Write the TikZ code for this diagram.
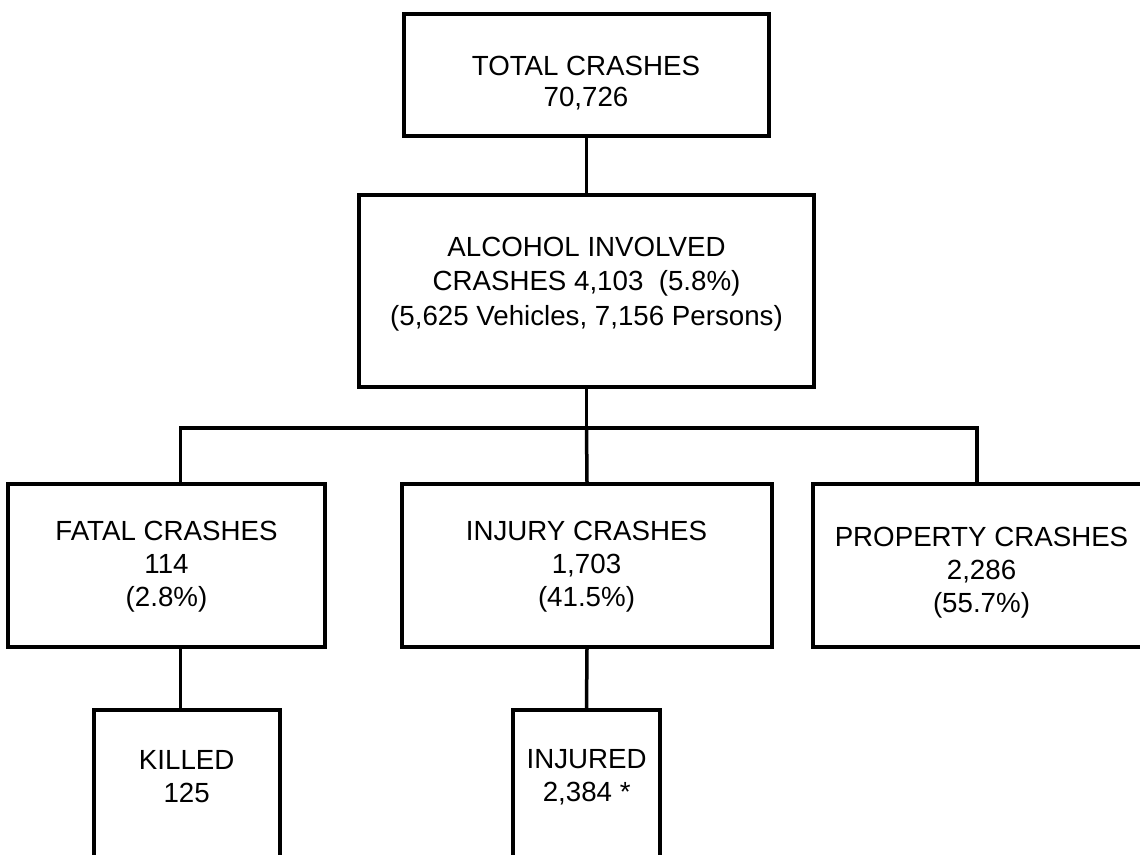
\documentclass[tikz,border=0pt]{standalone}
\usepackage{fontspec}
\setmainfont{Liberation Sans}
\tikzset{
  box/.style={draw, rectangle, inner sep=0pt, line width=3.5pt},
  lbl/.style={inner sep=0pt, align=center, font=\fontsize{27.7}{33}\selectfont},
  conn/.style={line width=3.5pt}
}
\begin{document}
\begin{tikzpicture}[x=1pt,y=-1pt]
\useasboundingbox (0,0) rectangle (1140,854);
% boxes
\node[box, minimum width=365pt, minimum height=122pt] (total) at (586.5,75) {};
\node[box, minimum width=455pt, minimum height=192pt] (alcohol) at (586.5,291) {};
\node[box, minimum width=317pt, minimum height=163pt] (fatal) at (166.5,565.5) {};
\node[box, minimum width=370pt, minimum height=163pt] (injury) at (587,565.5) {};
\node[box, minimum width=337pt, minimum height=163pt] (property) at (981.5,565.5) {};
\node[box, minimum width=186pt, minimum height=190pt] (killed) at (187,805) {};
\node[box, minimum width=147pt, minimum height=190pt] (injured) at (586.5,805) {};
% labels
\node[lbl, font=\fontsize{27.7}{31.7}\selectfont] (totalt) at (586,83) {TOTAL CRASHES\\70,726};
\node[lbl, font=\fontsize{27.7}{34.5}\selectfont] (alcoholt) at (586.5,284) {ALCOHOL INVOLVED\\CRASHES 4,103\ \ (5.8\%)\\(5,625 Vehicles, 7,156 Persons)};
\node[lbl] (fatalt) at (166.5,567) {FATAL CRASHES\\114\\(2.8\%)};
\node[lbl] (injuryt) at (586.5,567) {INJURY CRASHES\\1,703\\(41.5\%)};
\node[lbl] (propertyt) at (981.5,573) {PROPERTY CRASHES\\2,286\\(55.7\%)};
\node[lbl] (killedt) at (186.7,777) {KILLED\\125};
\node[lbl] (injuredt) at (586.7,777) {INJURED\\2,384 *};
% connectors
\coordinate (bus) at (586.5,428);
\coordinate (fx) at (180.5,428);
\coordinate (px) at (977,428);
\draw[conn] (total.south) -- (alcohol.north);
\draw[conn] (alcohol.south) -- (bus);
\draw[conn] (fatal.north -| fx) -- (fx) -- (px) -- (property.north -| px);
\draw[conn] (bus) -- (injury.north);
\draw[conn] (fatal.south -| fx) -- (killed.north -| fx);
\draw[conn] (injury.south) -- (injured.north);
\end{tikzpicture}
\end{document}
